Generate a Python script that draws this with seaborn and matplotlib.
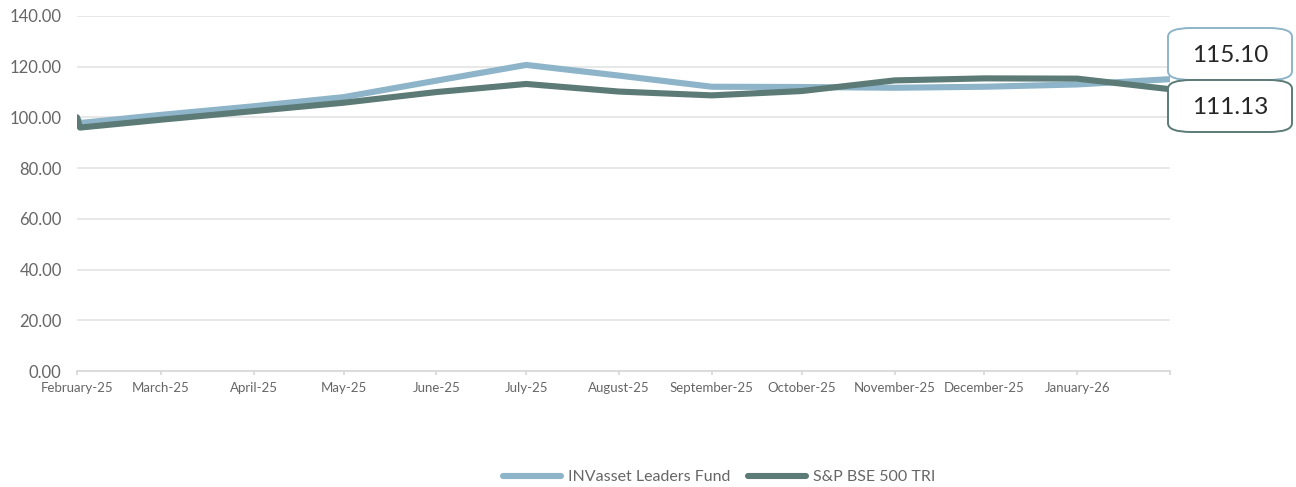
#!/usr/bin/env python3

import numpy as np
import pandas as pd
import matplotlib as mpl
from matplotlib import pyplot as plt
from matplotlib.patches import FancyBboxPatch
import seaborn as sns

sns.set_theme(style="white")
plt.rcParams['font.family'] = ['Lato', 'DejaVu Sans']

# data (index rebased to 100)
dates = ['2025-02-01', '2025-02-02', '2025-03-01', '2025-04-01', '2025-05-01',
         '2025-06-01', '2025-07-01', '2025-08-01', '2025-09-01', '2025-10-01',
         '2025-11-01', '2025-12-01', '2026-01-01', '2026-02-01']
fund = [100.0, 97.8, 101.0, 104.4, 108.0, 114.5, 120.7, 116.5, 112.1, 112.0,
        111.7, 112.1, 113.0, 115.10]
bench = [100.0, 96.0, 99.1, 102.5, 105.8, 110.0, 113.2, 110.2, 108.7, 110.4,
         114.6, 115.4, 115.3, 111.13]
series_names = ['INVasset Leaders Fund', 'S&P BSE 500 TRI']
tick_dates = ['2025-02-01', '2025-03-01', '2025-04-01', '2025-05-01', '2025-06-01',
              '2025-07-01', '2025-08-01', '2025-09-01', '2025-10-01', '2025-11-01',
              '2025-12-01', '2026-01-01', '2026-02-01']
tick_labels = ['February-25', 'March-25', 'April-25', 'May-25', 'June-25', 'July-25',
               'August-25', 'September-25', 'October-25', 'November-25',
               'December-25', 'January-26', '']

colors = {'INVasset Leaders Fund': '#8DB4C8', 'S&P BSE 500 TRI': '#5C7B76'}

df = pd.concat([
    pd.DataFrame({'date': pd.to_datetime(dates), 'value': fund, 'series': series_names[0]}),
    pd.DataFrame({'date': pd.to_datetime(dates), 'value': bench, 'series': series_names[1]}),
])

fig = plt.figure(figsize=(12.96, 4.87), dpi=100)
ax = fig.add_axes([77 / 1296, 1 - 371 / 487, (1170 - 77) / 1296, (371 - 16) / 487])

g = sns.lineplot(data=df, x='date', y='value', hue='series', hue_order=series_names,
                 palette=colors, estimator=None, sort=False, linewidth=4.4, ax=ax,
                 solid_capstyle='round', solid_joinstyle='round', legend=False)

ax.set_ylim(0, 140)
ax.set_xlim(pd.Timestamp(tick_dates[0]), pd.Timestamp(tick_dates[-1]))
ax.set_yticks(np.arange(0, 141, 20))
ax.yaxis.set_major_formatter(mpl.ticker.FormatStrFormatter('%.2f'))
ax.set_xticks(pd.to_datetime(tick_dates))
ax.set_xticklabels(tick_labels)
ax.set_xlabel('')
ax.set_ylabel('')

ax.grid(axis='y', color='#E6E6E6', linewidth=1.3)
ax.set_axisbelow(True)
for s in ['left', 'right', 'top']:
    ax.spines[s].set_visible(False)
ax.spines['bottom'].set_color('#D9D9D9')
ax.spines['bottom'].set_linewidth(1.3)
ax.tick_params(axis='y', length=0, pad=11, labelsize=12, labelcolor='#666666')
ax.tick_params(axis='x', bottom=True, length=3, width=1.3, color='#D9D9D9',
               pad=5, labelsize=9.5, labelcolor='#666666')

# end value callouts
for i, (vals, name) in enumerate(zip([fund, bench], series_names)):
    y0 = 1 - (80 + 52 * i) / 487
    box = FancyBboxPatch((1168 / 1296, y0), 124 / 1296, 52 / 487,
                         boxstyle='round,pad=0,rounding_size=0.018',
                         transform=fig.transFigure, facecolor='white',
                         edgecolor=colors[name], linewidth=1.4, clip_on=False)
    fig.add_artist(box)
    fig.text(1230 / 1296, y0 + 25 / 487, f'{vals[-1]:.2f}', ha='center', va='center',
             fontsize=17.5, color='#262626')

handles = [mpl.lines.Line2D([], [], color=colors[n], linewidth=4.4, solid_capstyle='round')
           for n in series_names]
fig.legend(handles, series_names, loc='center', bbox_to_anchor=(0.555, 0.02), ncol=2,
           frameon=False, fontsize=11.5, handlelength=3.6, handletextpad=0.45,
           columnspacing=1.1, labelcolor='#666666')

fig.savefig('out.png', dpi=100)
